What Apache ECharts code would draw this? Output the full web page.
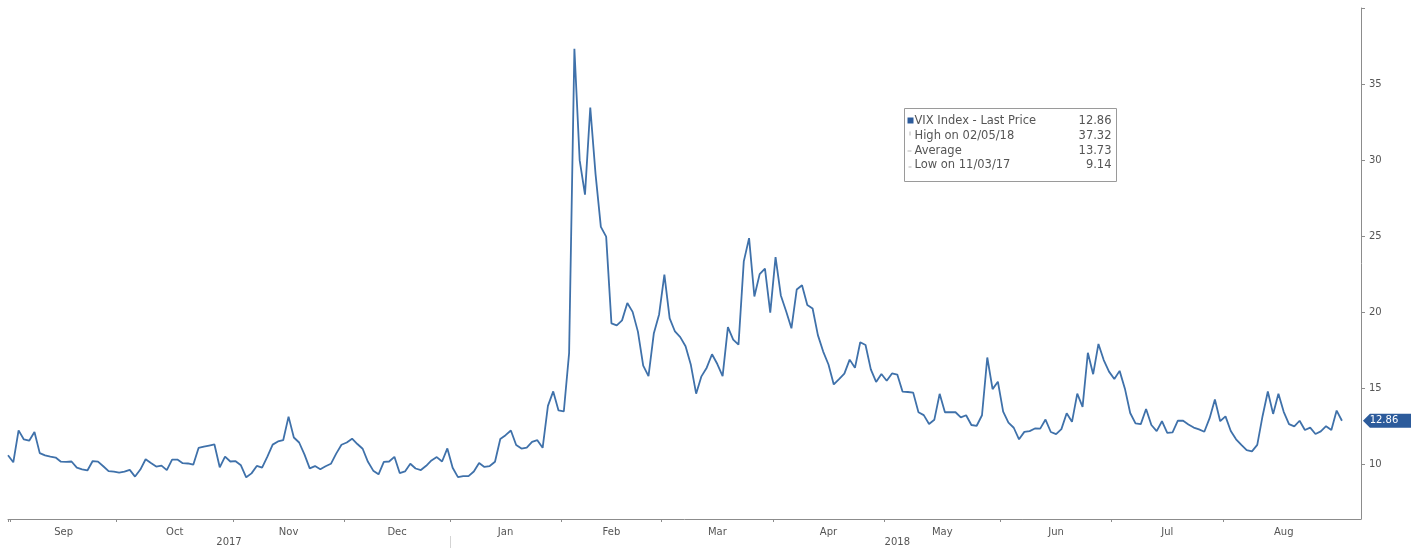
<!DOCTYPE html>
<html>
<head>
<meta charset="utf-8">
<title>VIX Index</title>
<script src="https://cdn.jsdelivr.net/npm/echarts@6/dist/echarts.min.js"></script>
<style>
  html, body { margin: 0; padding: 0; background: #ffffff; }
  #chart { width: 1411px; height: 548px; }
</style>
</head>
<body>
<div id="chart"></div>
<script>
// Trading sessions, grouped by month (year-month, days of month)
const tradingDays = [
  ['2017-08', [31]],
  ['2017-09', [1, 5, 6, 7, 8, 11, 12, 13, 14, 15, 18, 19, 20, 21, 22, 25, 26, 27, 28, 29]],
  ['2017-10', [2, 3, 4, 5, 6, 9, 10, 11, 12, 13, 16, 17, 18, 19, 20, 23, 24, 25, 26, 27, 30, 31]],
  ['2017-11', [1, 2, 3, 6, 7, 8, 9, 10, 13, 14, 15, 16, 17, 20, 21, 22, 24, 27, 28, 29, 30]],
  ['2017-12', [1, 4, 5, 6, 7, 8, 11, 12, 13, 14, 15, 18, 19, 20, 21, 22, 26, 27, 28, 29]],
  ['2018-01', [2, 3, 4, 5, 8, 9, 10, 11, 12, 16, 17, 18, 19, 22, 23, 24, 25, 26, 29, 30, 31]],
  ['2018-02', [1, 2, 5, 6, 7, 8, 9, 12, 13, 14, 15, 16, 20, 21, 22, 23, 26, 27, 28]],
  ['2018-03', [1, 2, 5, 6, 7, 8, 9, 12, 13, 14, 15, 16, 19, 20, 21, 22, 23, 26, 27, 28, 29]],
  ['2018-04', [2, 3, 4, 5, 6, 9, 10, 11, 12, 13, 16, 17, 18, 19, 20, 23, 24, 25, 26, 27, 30]],
  ['2018-05', [1, 2, 3, 4, 7, 8, 9, 10, 11, 14, 15, 16, 17, 18, 21, 22, 23, 24, 25, 29, 30, 31]],
  ['2018-06', [1, 4, 5, 6, 7, 8, 11, 12, 13, 14, 15, 18, 19, 20, 21, 22, 25, 26, 27, 28, 29]],
  ['2018-07', [2, 3, 5, 6, 9, 10, 11, 12, 13, 16, 17, 18, 19, 20, 23, 24, 25, 26, 27, 30, 31]],
  ['2018-08', [1, 2, 3, 6, 7, 8, 9, 10, 13, 14, 15, 16, 17, 20, 21, 22, 23, 24, 27, 28, 29, 30, 31]]
];

// VIX Index closing levels, one per session above
const vix = [
  10.59,
  // Sep 2017
  10.13, 12.23, 11.63, 11.55, 12.12, 10.73, 10.58, 10.50, 10.44, 10.17,
  10.15, 10.18, 9.78, 9.67, 9.59, 10.21, 10.17, 9.87, 9.55, 9.51,
  // Oct 2017
  9.45, 9.51, 9.63, 9.19, 9.65, 10.33, 10.08, 9.85, 9.91, 9.61,
  10.31, 10.31, 10.07, 10.05, 9.97, 11.07, 11.16, 11.23, 11.30, 9.80, 10.50, 10.18,
  // Nov 2017
  10.20, 9.93, 9.14, 9.40, 9.89, 9.78, 10.50, 11.29, 11.50, 11.59,
  13.13, 11.76, 11.43, 10.65, 9.73, 9.88, 9.67, 9.87, 10.03, 10.70, 11.28,
  // Dec 2017
  11.43, 11.68, 11.33, 11.02, 10.16, 9.58, 9.34, 10.16, 10.18, 10.49,
  9.42, 9.53, 10.03, 9.72, 9.62, 9.90, 10.25, 10.47, 10.18, 11.04,
  // Jan 2018
  9.77, 9.15, 9.22, 9.22, 9.52, 10.08, 9.82, 9.88, 10.16, 11.66,
  11.91, 12.22, 11.27, 11.03, 11.10, 11.47, 11.58, 11.08, 13.84, 14.79, 13.54,
  // Feb 2018
  13.47, 17.31, 37.32, 29.98, 27.73, 33.46, 29.06, 25.61, 24.97, 19.26,
  19.13, 19.46, 20.60, 20.02, 18.72, 16.49, 15.80, 18.59, 19.85,
  // Mar 2018
  22.47, 19.59, 18.73, 18.36, 17.76, 16.54, 14.64, 15.78, 16.35, 17.23,
  16.59, 15.80, 19.02, 18.20, 17.86, 23.34, 24.87, 21.03, 22.50, 22.87, 19.97,
  // Apr 2018
  23.62, 21.10, 20.06, 18.94, 21.49, 21.77, 20.47, 20.24, 18.49, 17.41,
  16.56, 15.25, 15.60, 15.96, 16.88, 16.34, 18.02, 17.84, 16.24, 15.41, 15.93,
  // May 2018
  15.49, 15.97, 15.90, 14.77, 14.75, 14.71, 13.42, 13.23, 12.65, 12.93,
  14.63, 13.42, 13.43, 13.42, 13.08, 13.22, 12.58, 12.53, 13.22, 17.02, 14.94, 15.43,
  // Jun 2018
  13.46, 12.74, 12.40, 11.64, 12.13, 12.18, 12.35, 12.34, 12.94, 12.12,
  11.98, 12.31, 13.35, 12.79, 14.64, 13.77, 17.33, 15.92, 17.91, 16.85, 16.09,
  // Jul 2018
  15.60, 16.14, 14.97, 13.37, 12.69, 12.64, 13.63, 12.58, 12.18, 12.83,
  12.06, 12.10, 12.87, 12.86, 12.62, 12.41, 12.29, 12.14, 13.03, 14.26, 12.83,
  // Aug 2018
  13.15, 12.19, 11.64, 11.27, 10.93, 10.85, 11.27, 13.16, 14.78, 13.31,
  14.64, 13.45, 12.64, 12.49, 12.86, 12.25, 12.41, 11.99, 12.16, 12.50, 12.25, 13.53, 12.86
];

const monthNames = ['Jan', 'Feb', 'Mar', 'Apr', 'May', 'Jun', 'Jul', 'Aug', 'Sep', 'Oct', 'Nov', 'Dec'];
const yTickLabels = [10, 15, 20, 25, 30, 35];
const yTickMarks = [10, 15, 20, 25, 30, 35, 40];
const seriesName = 'VIX Index - Last Price';
const averageLevel = 13.73;

// ---- derived tables ----
const dates = [];
tradingDays.forEach(([ym, days]) => {
  days.forEach(d => dates.push(ym + '-' + String(d).padStart(2, '0')));
});
const seriesData = dates.map((d, i) => [i, vix[i]]);

const Y_MIN = 6.4, Y_MAX = 40;
const X_MAX = dates.length - 1 + 3.6;   // blank sessions kept right of the last close

// month / year groups along the session index
function groupBy(keyFn) {
  const groups = [];
  dates.forEach((d, i) => {
    const k = keyFn(d);
    const g = groups[groups.length - 1];
    if (g && g.key === k) g.last = i; else groups.push({ key: k, first: i, last: i });
  });
  return groups;
}
const months = groupBy(d => d.slice(0, 7));
const years = groupBy(d => d.slice(0, 4));

const monthTicks = [0];
const monthLabelPos = [];
const monthLabelText = {};
months.forEach(g => {
  if (g.first > 0) monthTicks.push(g.first - 0.5);
  if (g.last - g.first + 1 >= 10) {
    const p = (g.first + g.last) / 2;
    monthLabelPos.push(p);
    monthLabelText[p.toFixed(2)] = monthNames[parseInt(g.key.slice(5, 7), 10) - 1];
  }
});
const yearLabelPos = [];
const yearLabelText = {};
const yearTicks = [];
years.forEach(g => {
  const a = Math.max(g.first - 0.5, 0);
  const b = Math.min(g.last + 0.5, X_MAX);
  const p = (a + b) / 2;
  yearLabelPos.push(p);
  yearLabelText[p.toFixed(2)] = g.key;
  if (g.first > 0) yearTicks.push(g.first - 0.5);
});

// summary figures for the legend box
let hiIdx = 0, loIdx = 0;
vix.forEach((v, i) => { if (v > vix[hiIdx]) hiIdx = i; if (v < vix[loIdx]) loIdx = i; });
const lastIdx = vix.length - 1;
function usDate(s) { return s.slice(5, 7) + '/' + s.slice(8, 10) + '/' + s.slice(2, 4); }
const legendRows = [
  [seriesName, vix[lastIdx].toFixed(2)],
  ['High on ' + usDate(dates[hiIdx]), vix[hiIdx].toFixed(2)],
  ['Average', averageLevel.toFixed(2)],
  ['Low on ' + usDate(dates[loIdx]), vix[loIdx].toFixed(2)]
];

// ---- chart ----
const FONT = 'DejaVu Sans';
const TEXT = '#555555';
const AXIS = '#8c8c8c';
const LINE = '#3f71aa';
const TAG = '#2c5b9b';

const chart = echarts.init(document.getElementById('chart'), null, { renderer: 'canvas' });

const legendGraphic = {
  type: 'group',
  left: 904, top: 108,
  children: [
    { type: 'rect', shape: { x: 0, y: 0, width: 212, height: 73 },
      style: { fill: '#ffffff', stroke: '#9a9a9a', lineWidth: 1 } },
    { type: 'rect', shape: { x: 3, y: 9, width: 6, height: 6 }, style: { fill: TAG } },
    { type: 'rect', shape: { x: 5, y: 23, width: 1, height: 4 }, style: { fill: '#b8b8b8' } },
    { type: 'rect', shape: { x: 3, y: 42, width: 4, height: 1 }, style: { fill: '#b8b8b8' } },
    { type: 'rect', shape: { x: 4, y: 58, width: 3, height: 1 }, style: { fill: '#b8b8b8' } }
  ].concat(legendRows.flatMap((r, k) => [
    { type: 'text', x: 10, y: 12.5 + k * 14.8,
      style: { text: r[0], fill: TEXT, font: '11.5px "' + FONT + '"', textVerticalAlign: 'middle' } },
    { type: 'text', x: 207, y: 12.5 + k * 14.8,
      style: { text: r[1], fill: TEXT, font: '11.5px "' + FONT + '"', textAlign: 'right', textVerticalAlign: 'middle' } }
  ]))
};

chart.setOption({
  backgroundColor: '#ffffff',
  animation: false,
  textStyle: { fontFamily: FONT },
  grid: { left: 8, right: 50, top: 8, bottom: 29, containLabel: false },
  xAxis: [
    {
      type: 'value', min: 0, max: X_MAX, position: 'bottom',
      axisLine: { show: true, onZero: false, lineStyle: { color: AXIS, width: 1 } },
      axisTick: { show: true, customValues: monthTicks, length: 3, lineStyle: { color: AXIS } },
      axisLabel: {
        customValues: monthLabelPos, color: TEXT, fontSize: 10, fontFamily: FONT, margin: 8,
        formatter: v => monthLabelText[Number(v).toFixed(2)] || ''
      },
      splitLine: { show: false }
    },
    {
      type: 'value', min: 0, max: X_MAX, position: 'bottom', offset: 17,
      axisLine: { show: false, onZero: false },
      axisTick: { show: true, customValues: yearTicks, length: 12, lineStyle: { color: '#d4d4d4' } },
      axisLabel: {
        customValues: yearLabelPos, color: TEXT, fontSize: 10, fontFamily: FONT, margin: 1,
        formatter: v => yearLabelText[Number(v).toFixed(2)] || ''
      },
      splitLine: { show: false }
    }
  ],
  yAxis: {
    type: 'value', position: 'right', min: Y_MIN, max: Y_MAX,
    axisLine: { show: true, onZero: false, lineStyle: { color: AXIS, width: 1 } },
    axisTick: { show: true, customValues: yTickMarks, length: 4, lineStyle: { color: AXIS } },
    axisLabel: { customValues: yTickLabels, color: TEXT, fontSize: 10, fontFamily: FONT, margin: 8 },
    splitLine: { show: false }
  },
  series: [{
    name: seriesName,
    type: 'line',
    xAxisIndex: 0,
    data: seriesData,
    showSymbol: false,
    symbol: 'none',
    lineStyle: { color: LINE, width: 1.8 },
    markPoint: {
      silent: true,
      symbol: 'path://M0,7L7,0L56,0L56,14L7,14Z',
      symbolSize: [56, 14],
      symbolKeepAspect: false,
      symbolOffset: [49, 0],
      itemStyle: { color: TAG },
      label: {
        show: true, position: 'inside', color: '#ffffff', fontSize: 10, fontFamily: FONT,
        offset: [-7, 0], formatter: p => Number(p.value).toFixed(2)
      },
      data: [{ coord: [lastIdx, vix[lastIdx]], value: vix[lastIdx] }]
    }
  }],
  graphic: [legendGraphic]
});
</script>
</body>
</html>
